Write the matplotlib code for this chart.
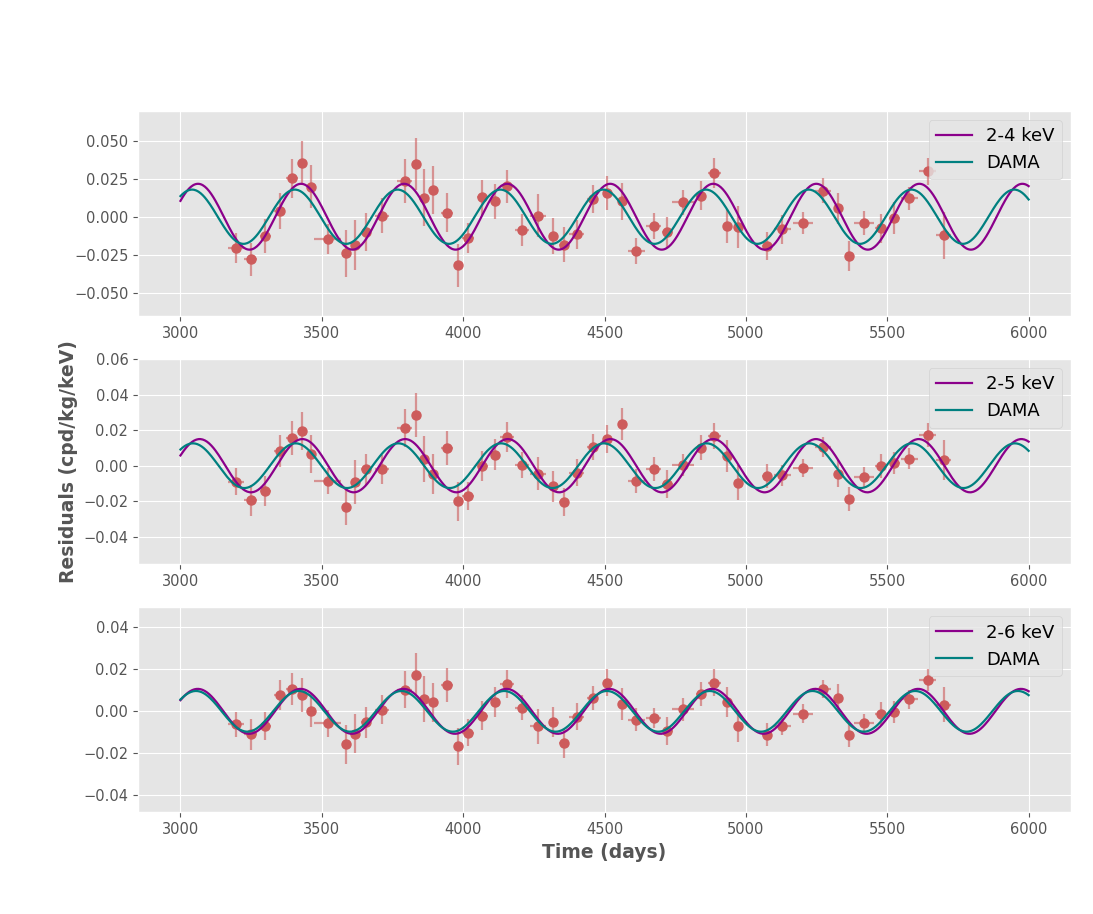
import numpy as np
import matplotlib
matplotlib.use("Agg")
import matplotlib.pyplot as plt
from matplotlib.colors import to_rgba
from matplotlib.ticker import MultipleLocator

# time bins (days) and half-widths, shared by all three panels
days = [3196, 3249, 3300, 3351, 3395, 3430, 3462, 3521, 3584, 3616,
        3655, 3713, 3793, 3833, 3862, 3895, 3942, 3980, 4018, 4068,
        4113, 4156, 4209, 4264, 4317, 4356, 4401, 4458, 4509, 4560,
        4613, 4674, 4722, 4777, 4841, 4888, 4932, 4972, 5075, 5128,
        5202, 5273, 5324, 5366, 5417, 5477, 5525, 5578, 5643, 5699]
days_err = [28, 23, 20, 19, 20, 12, 12, 47, 12, 12,
            18, 25, 26, 12, 12, 12, 22, 12, 22, 19,
            12, 25, 25, 29, 12, 18, 25, 20, 12, 12,
            29, 26, 20, 38, 18, 23, 12, 12, 18, 30,
            35, 29, 12, 12, 35, 19, 20, 29, 29, 25]

# residuals 2-4 keV
res_24 = [-0.0204, -0.0280, -0.0127, 0.0038, 0.0252, 0.0354, 0.0197, -0.0147, -0.0241, -0.0184,
          -0.0099, 0.0008, 0.0232, 0.0348, 0.0125, 0.0178, 0.0027, -0.0319, -0.0139, 0.0127,
          0.0101, 0.0199, -0.0090, 0.0008, -0.0127, -0.0184, -0.0116, 0.0116, 0.0154, 0.0101,
          -0.0225, -0.0058, -0.0103, 0.0095, 0.0139, 0.0289, -0.0062, -0.0069, -0.0193, -0.0082,
          -0.0042, 0.0171, 0.0056, -0.0258, -0.0042, -0.0077, -0.0008, 0.0121, 0.0297, -0.0121]
err_24 = [0.0098, 0.0110, 0.0113, 0.0120, 0.0130, 0.0144, 0.0142, 0.0100, 0.0157, 0.0163,
          0.0125, 0.0118, 0.0144, 0.0170, 0.0185, 0.0157, 0.0130, 0.0142, 0.0100, 0.0114,
          0.0116, 0.0110, 0.0105, 0.0140, 0.0120, 0.0114, 0.0094, 0.0090, 0.0110, 0.0120,
          0.0083, 0.0085, 0.0102, 0.0083, 0.0095, 0.0098, 0.0110, 0.0138, 0.0094, 0.0094,
          0.0070, 0.0080, 0.0102, 0.0098, 0.0078, 0.0094, 0.0105, 0.0074, 0.0087, 0.0155]

# residuals 2-5 keV
res_25 = [-0.0090, -0.0194, -0.0143, 0.0085, 0.0156, 0.0196, 0.0066, -0.0087, -0.0232, -0.0094,
          -0.0021, -0.0021, 0.0213, 0.0283, 0.0038, -0.0047, 0.0100, -0.0200, -0.0170, 0.0000,
          0.0062, 0.0162, 0.0004, -0.0045, -0.0117, -0.0203, -0.0040, 0.0107, 0.0152, 0.0237,
          -0.0085, -0.0021, -0.0104, 0.0004, 0.0102, 0.0166, 0.0053, -0.0096, -0.0057, -0.0053,
          -0.0011, 0.0107, -0.0045, -0.0188, -0.0064, 0.0000, 0.0015, 0.0040, 0.0173, 0.0030]
err_25 = [0.0075, 0.0087, 0.0085, 0.0090, 0.0096, 0.0107, 0.0106, 0.0075, 0.0102, 0.0124,
          0.0087, 0.0081, 0.0105, 0.0124, 0.0132, 0.0115, 0.0098, 0.0110, 0.0077, 0.0085,
          0.0089, 0.0083, 0.0072, 0.0094, 0.0089, 0.0080, 0.0075, 0.0073, 0.0080, 0.0090,
          0.0068, 0.0068, 0.0080, 0.0064, 0.0072, 0.0073, 0.0090, 0.0098, 0.0066, 0.0059,
          0.0051, 0.0057, 0.0075, 0.0068, 0.0059, 0.0068, 0.0064, 0.0057, 0.0066, 0.0113]

# residuals 2-6 keV
res_26 = [-0.0062, -0.0109, -0.0071, 0.0079, 0.0106, 0.0079, 0.0003, -0.0057, -0.0158, -0.0107,
          -0.0052, 0.0008, 0.0104, 0.0175, 0.0057, 0.0043, 0.0126, -0.0167, -0.0101, -0.0020,
          0.0043, 0.0131, 0.0017, -0.0072, -0.0052, -0.0153, -0.0025, 0.0065, 0.0136, 0.0035,
          -0.0039, -0.0032, -0.0093, 0.0009, 0.0083, 0.0137, 0.0043, -0.0071, -0.0112, -0.0068,
          -0.0011, 0.0106, 0.0065, -0.0114, -0.0057, -0.0011, -0.0003, 0.0058, 0.0151, 0.0032]
err_26 = [0.0060, 0.0074, 0.0068, 0.0072, 0.0077, 0.0082, 0.0079, 0.0063, 0.0095, 0.0093,
          0.0074, 0.0069, 0.0087, 0.0104, 0.0110, 0.0094, 0.0080, 0.0087, 0.0063, 0.0069,
          0.0071, 0.0066, 0.0060, 0.0082, 0.0072, 0.0069, 0.0063, 0.0057, 0.0065, 0.0076,
          0.0055, 0.0049, 0.0068, 0.0054, 0.0058, 0.0063, 0.0071, 0.0077, 0.0055, 0.0045,
          0.0044, 0.0044, 0.0063, 0.0055, 0.0046, 0.0055, 0.0052, 0.0046, 0.0052, 0.0085]

# fitted modulation: (amplitude, period, peak day)
fit_24 = (0.0216, 364.5, 3062)
fit_25 = (0.0150, 363.3, 3068)
fit_26 = (0.0107, 364.0, 3061)
dama_24 = (0.0178, 363.5, 3041)
dama_25 = (0.0126, 363.4, 3044)
dama_26 = (0.0097, 363.4, 3055)

labels = ["2-4 keV", "2-5 keV", "2-6 keV"]
ylims = [(-0.065, 0.0694), (-0.0554, 0.060), (-0.0481, 0.0495)]
ysteps = [0.025, 0.02, 0.02]


def modulation(t, pars):
    amp, period, t0 = pars
    return amp * np.cos(2 * np.pi * (t - t0) / period)


plt.style.use("ggplot")
fig, axes = plt.subplots(3, 1, figsize=(10.93, 9.14), dpi=100)
fig.subplots_adjust(left=0.1263, right=0.9799, top=0.8786, bottom=0.1113, hspace=0.212)

t = np.linspace(3000, 6000, 800)
panels = [(res_24, err_24, fit_24, dama_24),
          (res_25, err_25, fit_25, dama_25),
          (res_26, err_26, fit_26, dama_26)]

for ax, (res, err, fit, dama), label, ylim, step in zip(axes, panels, labels, ylims, ysteps):
    ax.errorbar(days, res, xerr=days_err, yerr=err, fmt="o", color="indianred",
                ecolor=to_rgba("indianred", 0.6), elinewidth=1.6, markersize=6.5,
                capsize=0, zorder=2)
    ax.plot(t, modulation(t, fit), color="darkmagenta", lw=1.6, label=label, zorder=3)
    ax.plot(t, modulation(t, dama), color="teal", lw=1.6, label="DAMA", zorder=3)
    ax.set_ylim(*ylim)
    ax.yaxis.set_major_locator(MultipleLocator(step))
    ax.tick_params(labelsize=10.5)
    ax.legend(loc="upper right", fontsize=13)

axes[1].set_ylabel("Residuals (cpd/kg/keV)", fontweight="bold", fontsize=13.5)
axes[2].set_xlabel("Time (days)", fontweight="bold", fontsize=13.5)

plt.savefig("out.png")
